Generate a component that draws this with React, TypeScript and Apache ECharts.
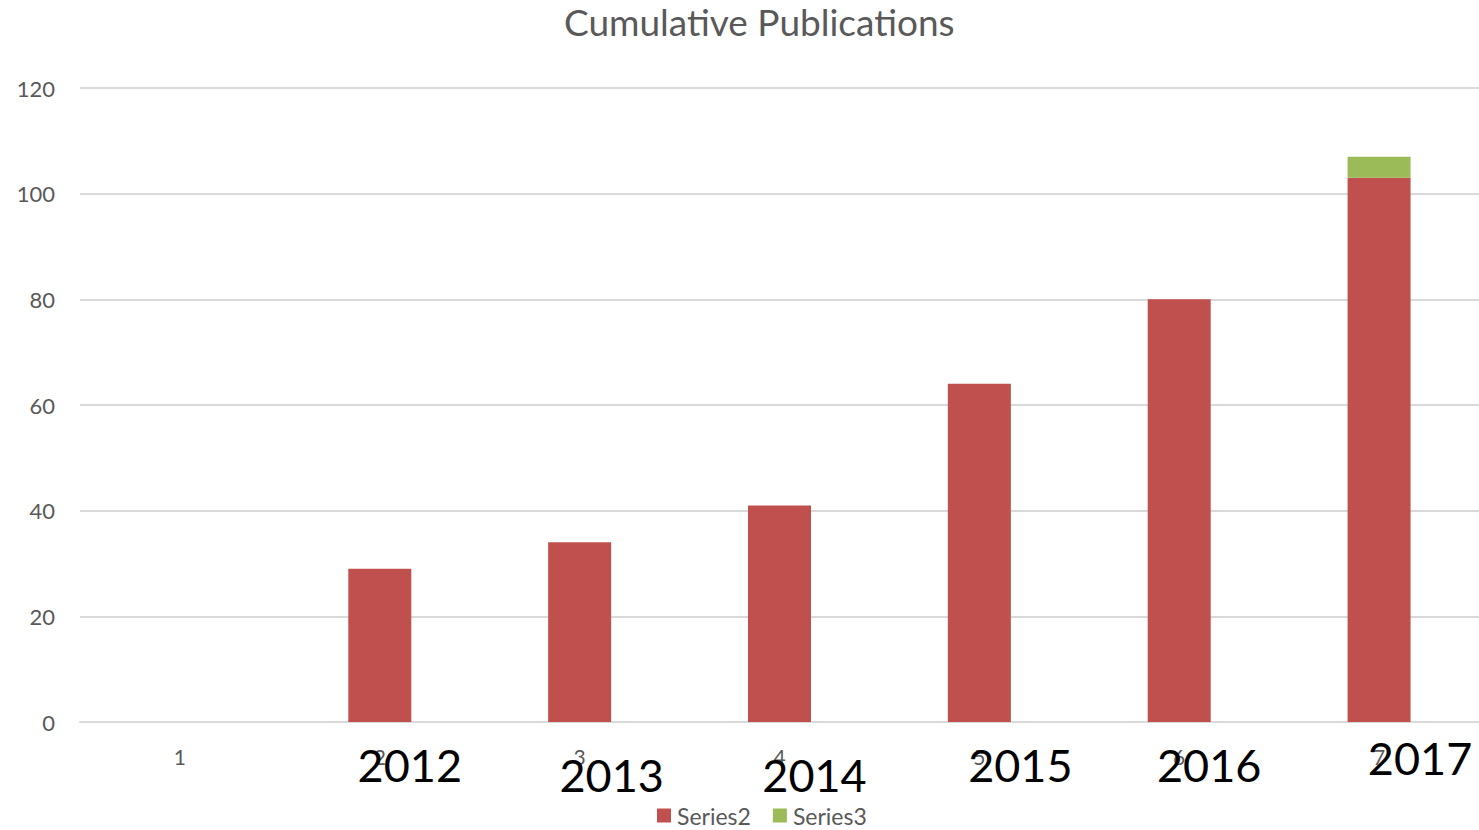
import React, { useEffect, useRef } from "react";
import * as echarts from "echarts";

const categories = ["1", "2", "3", "4", "5", "6", "7"];
const series2 = [0, 29, 34, 41, 64, 80, 103];
const series3 = [0, 0, 0, 0, 0, 0, 4];
const yearLabels = ["", "2012", "2013", "2014", "2015", "2016", "2017"];

// layout-only offsets of the overlaid year text boxes (relative to category centre)
const yearOffsetX = [0, 30, 32, 35, 41, 30, 41];
const yearCenterY = [0, 765, 775, 775, 765, 765, 758];

const FONT = "Lato, 'Noto Sans', sans-serif";
const GREY = "#595959";

export default function App() {
  const ref = useRef<HTMLDivElement>(null);
  useEffect(() => {
    if (!ref.current) return;
    const chart = echarts.init(ref.current, null, { renderer: "svg" });
    const option: any = {
      animation: false,
      backgroundColor: "#ffffff",
      textStyle: { fontFamily: FONT },
      title: {
        text: "Cumulative Publications",
        left: 559,
        top: -2,
        textStyle: { fontFamily: FONT, fontSize: 37, fontWeight: "normal", color: GREY },
      },
      legend: {
        bottom: -2,
        left: 652,
        itemWidth: 14,
        itemHeight: 14,
        itemGap: 22,
        icon: "rect",
        textStyle: { fontFamily: FONT, fontSize: 23, color: GREY, padding: [0, 0, 0, 1] },
        data: ["Series2", "Series3"],
      },
      grid: { left: 80, right: -7, top: 88, bottom: 108, containLabel: false },
      xAxis: {
        type: "category",
        data: categories,
        axisLine: { lineStyle: { color: "#d9d9d9", width: 2 } },
        axisTick: { show: false },
        axisLabel: { color: GREY, fontSize: 21, fontFamily: FONT, margin: 24 },
      },
      yAxis: {
        type: "value",
        min: 0,
        max: 120,
        interval: 20,
        axisLine: { show: false },
        axisTick: { show: false },
        splitLine: { lineStyle: { color: "#d9d9d9", width: 2 } },
        axisLabel: { color: GREY, fontSize: 22, fontFamily: FONT, margin: 25 },
      },
      series: [
        {
          name: "Series2",
          type: "bar",
          stack: "total",
          data: series2,
          barWidth: 63,
          itemStyle: { color: "#c0504d" },
        },
        {
          name: "Series3",
          type: "bar",
          stack: "total",
          data: series3,
          barWidth: 63,
          itemStyle: { color: "#9bbb59" },
        },
      ],
    };
    chart.setOption(option);
    const graphics: any[] = [];
    yearLabels.forEach((y, i) => {
      if (!y) return;
      const cx = chart.convertToPixel({ xAxisIndex: 0 }, categories[i]) as number;
      graphics.push({
        type: "text",
        x: cx + yearOffsetX[i],
        y: yearCenterY[i],
        z: 100,
        style: {
          text: y,
          fill: "#000000",
          font: `45px ${FONT}`,
          align: "center",
          verticalAlign: "middle",
        },
      });
    });
    chart.setOption({ graphic: graphics });
    return () => chart.dispose();
  }, []);
  return (
    <div
      ref={ref}
      style={{ position: "absolute", left: 0, top: 0, width: 1479, height: 830 }}
    />
  );
}
